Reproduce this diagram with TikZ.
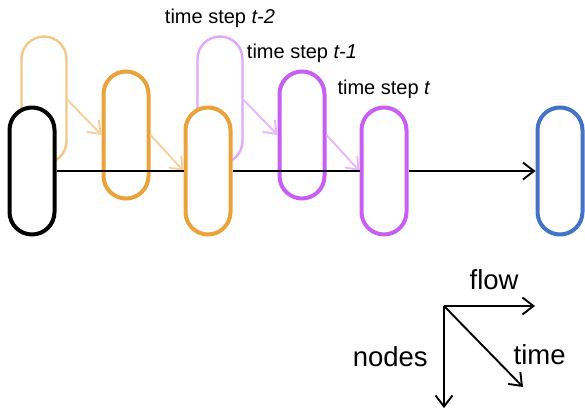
\documentclass[tikz,border=0pt]{standalone}
\usepackage{fontspec}
\setmainfont{Liberation Sans}
\usetikzlibrary{positioning,arrows.meta}
\definecolor{orng}{RGB}{234,163,58}
\definecolor{vlt}{RGB}{200,95,245}
\definecolor{blu}{RGB}{68,114,196}

\begin{document}
\begin{tikzpicture}[->,>={Straight Barb[length=11pt,width=17pt]},line width=1.9pt,
  node distance=176pt,on grid,
  pill/.style={draw,fill=white,line width=4pt,rounded corners=22.5pt,minimum width=45pt,minimum height=127pt},
  old pill/.style={pill,line width=2.4pt},
  steplabel/.style={font=\fontsize{20}{24}\selectfont},
  axislabel/.style={font=\fontsize{27.5}{32}\selectfont}]
   \useasboundingbox (0,0) rectangle (585pt,-414pt);
   % time step t-2 first, the others lie on top
   \node[old pill,draw=orng!60] (o1) at (44pt,-100pt) {};
   \node[old pill,draw=vlt!55,right=of o1] (v1) {};
   \node[pill,draw=orng,below right=35pt and 82pt of o1] (o2) {};
   \node[pill,draw=vlt,below right=35pt and 82pt of v1] (v2) {};
   \node[pill,draw=orng,below right=36pt and 82pt of o2] (o3) {};
   \node[pill,draw=black,left=of o3] (n0) {};
   \node[pill,draw=vlt,below right=36pt and 82pt of v2] (v3) {};
   \node[pill,draw=blu,right=of v3] (b) {};
   \path[draw=orng!50] (o1.east) -- (o2.west);
   \path[draw=orng!50] (o2.east) -- (o3.west);
   \path[draw=vlt!45] (v1.east) -- (v2.west);
   \path[draw=vlt!45] (v2.east) -- (v3.west);
   \path[draw]
    (n0) -- (o3)
    (o3) -- (v3)
    (v3) -- (b);
   \node[steplabel,on grid=false,above=3pt of v1] (l1) {time step \textit{t-2}};
   \node[steplabel,on grid=false,above=3pt of v2] (l2) {time step \textit{t-1}};
   \node[steplabel,on grid=false,above=3pt of v3] (l3) {time step \textit{t}};
   % axes
   \coordinate (ax) at (444pt,-306pt);
   \coordinate (fl) at (535pt,-306pt);
   \coordinate (nd) at (444pt,-408pt);
   \coordinate (tm) at (523pt,-387pt);
   \draw (ax) -- node[axislabel,pos=.55,above=12pt] (lf) {flow} (fl);
   \draw (ax) -- node[axislabel,pos=.5,left=12pt] (ln) {nodes} (nd);
   \draw (ax) -- node[axislabel,pos=.6,right=18pt] (lt) {time} (tm);
\end{tikzpicture}
\end{document}
